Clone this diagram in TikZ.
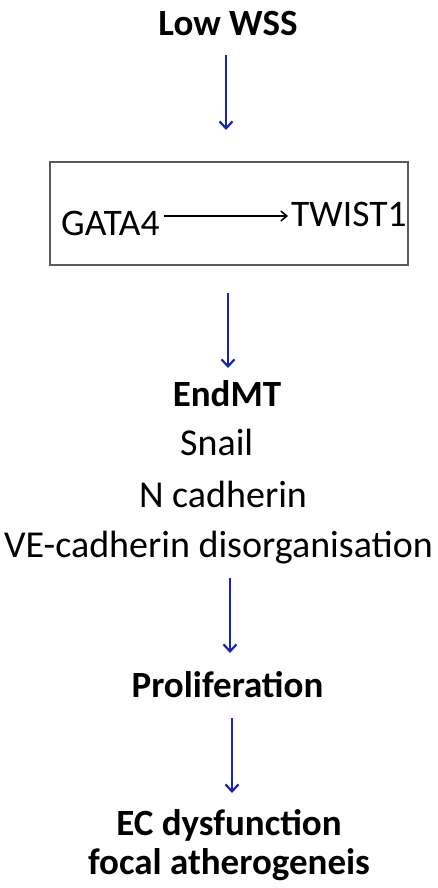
\documentclass[tikz,border=0pt]{standalone}
\usepackage{fontspec}
\setmainfont{Carlito}
\usetikzlibrary{arrows.meta}
\definecolor{flowblue}{RGB}{24,40,168}
\definecolor{boxgray}{RGB}{90,90,90}
\tikzset{
  head/.style={font=\fontsize{37}{44}\selectfont\bfseries, inner sep=0pt},
  body/.style={font=\fontsize{38}{44}\selectfont, inner sep=0pt},
  gene/.style={font=\fontsize{37.5}{44}\selectfont, inner sep=0pt},
  flow/.style={draw=flowblue, line width=2.2pt, -{Straight Barb[length=7pt,width=13pt,line width=2.2pt]}},
  link/.style={draw=black, line width=1.5pt, -{Straight Barb[length=6pt,width=10pt,line width=1.5pt]}},
}
\begin{document}
\begin{tikzpicture}[x=1pt,y=-1pt]
  \useasboundingbox (0,0) rectangle (437,888);

  % top stimulus
  \node[head, anchor=base] (wss) at (228,36) {Low WSS};
  \coordinate (a1s) at (226,55);
  \coordinate (a1e) at (226,130);
  \draw[flow] (a1s) -- (a1e);

  % transcription factor box
  \node[draw=boxgray, line width=1.3pt, minimum width=358pt, minimum height=103pt, inner sep=0pt] (box) at (229,213.5) {};
  \node[gene, anchor=base west] (gata) at (61,235) {GATA4};
  \node[gene, anchor=base west] (twist) at (291,226) {TWIST1};
  \coordinate (l1) at ([xshift=4pt]gata.east |- 0,216);
  \coordinate (l2) at ([xshift=-3pt]twist.west |- 0,216);
  \draw[link] (l1) -- (l2);
  \coordinate (a2s) at (228,293);
  \coordinate (a2e) at (228,368);
  \draw[flow] (a2s) -- (a2e);

  % EndMT block
  \node[head, anchor=base] (endmt) at (227,406) {EndMT};
  \node[body, anchor=base west] (snail) at (180,455) {Snail};
  \node[body, anchor=base] (ncad) at (223,507) {N cadherin};
  \node[body, anchor=base] (vecad) at (218.5,557) {VE-cadherin disorganisation};
  \coordinate (a3s) at (230,578);
  \coordinate (a3e) at (230,653);
  \draw[flow] (a3s) -- (a3e);

  % proliferation
  \node[head, anchor=base] (prol) at (227.5,697) {Proliferation};
  \coordinate (a4s) at (232,718);
  \coordinate (a4e) at (232,793);
  \draw[flow] (a4s) -- (a4e);

  % outcome
  \node[head, anchor=base] (ecd) at (229,835) {EC dysfunction};
  \node[head, anchor=base] (focal) at (229,874) {focal atherogeneis};
\end{tikzpicture}
\end{document}
